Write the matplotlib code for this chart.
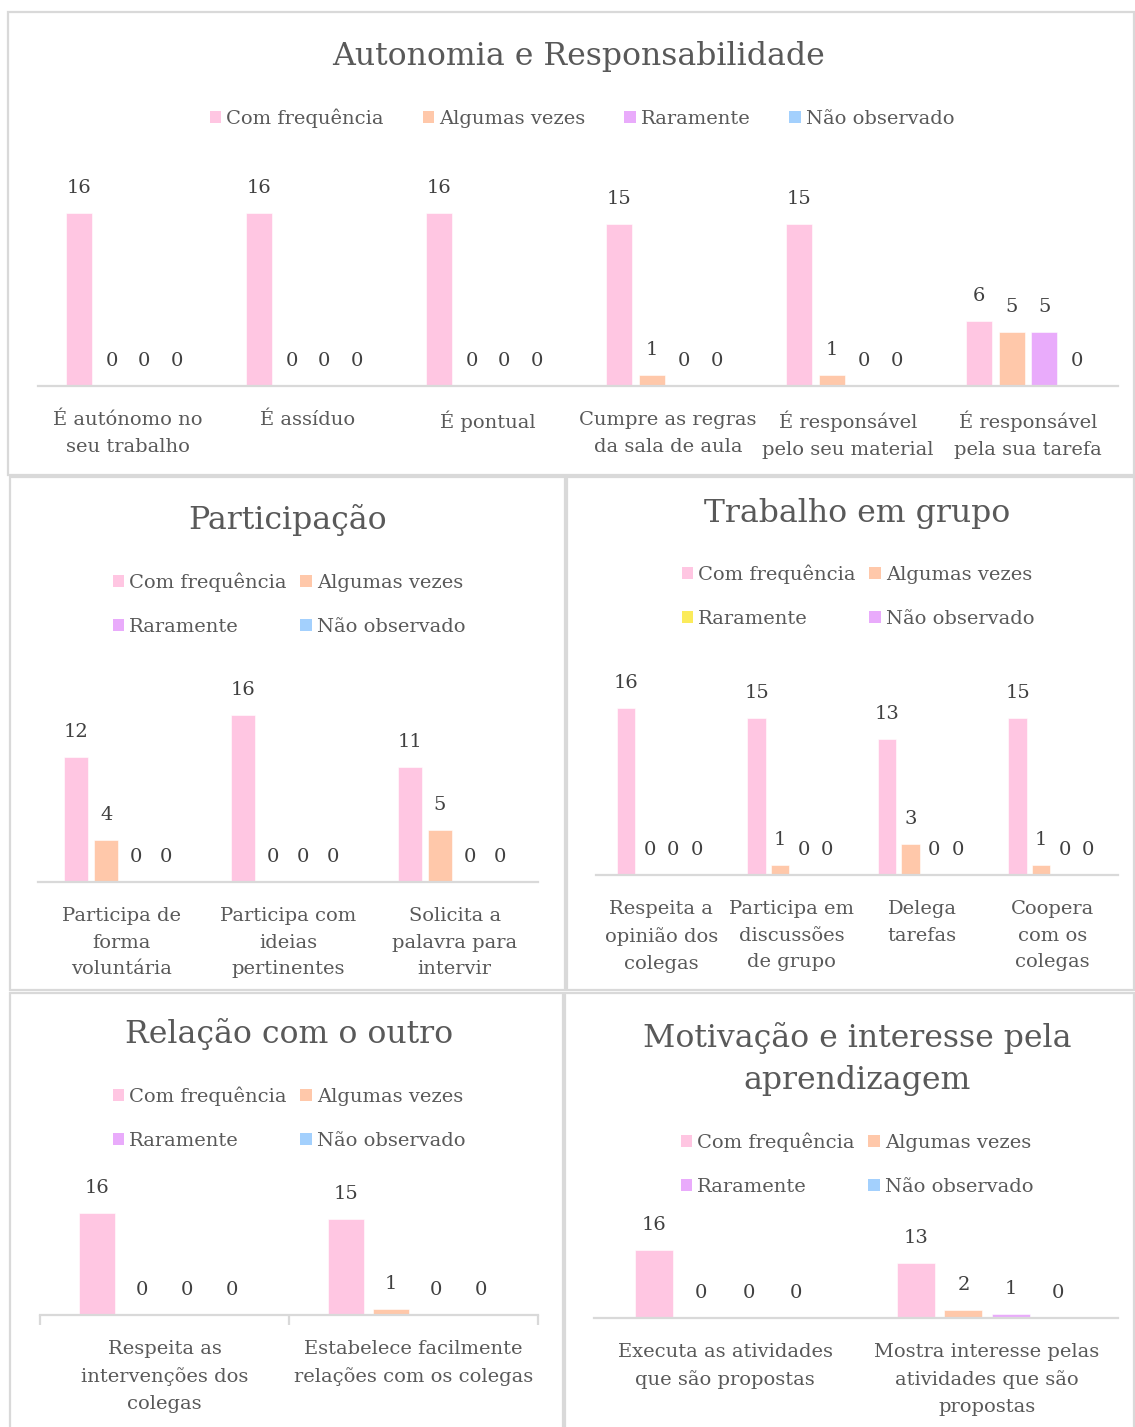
import matplotlib

matplotlib.use("Agg")
import matplotlib.pyplot as plt
import numpy as np
from matplotlib.patches import Patch, Rectangle

plt.rcParams["font.family"] = ["DejaVu Serif"]

W, H = 1135, 1427

PINK = "#FFC6E2"
PEACH = "#FFC8AA"
VIOLET = "#E9ABFB"
BLUE = "#A3D0FD"
YELLOW = "#FBEB5B"
GRID = "#D9D9D9"
TEXT = "#595959"
LABEL = "#404040"

SERIES = ["Com frequência", "Algumas vezes", "Raramente", "Não observado"]

# Autonomia e Responsabilidade
autonomia_items = [
    "É autónomo no\nseu trabalho",
    "É assíduo",
    "É pontual",
    "Cumpre as regras\nda sala de aula",
    "É responsável\npelo seu material",
    "É responsável\npela sua tarefa",
]
autonomia_com = [16, 16, 16, 15, 15, 6]
autonomia_alg = [0, 0, 0, 1, 1, 5]
autonomia_rar = [0, 0, 0, 0, 0, 5]
autonomia_nao = [0, 0, 0, 0, 0, 0]

# Participação
participacao_items = [
    "Participa de\nforma\nvoluntária",
    "Participa com\nideias\npertinentes",
    "Solicita a\npalavra para\nintervir",
]
participacao_com = [12, 16, 11]
participacao_alg = [4, 0, 5]
participacao_rar = [0, 0, 0]
participacao_nao = [0, 0, 0]

# Trabalho em grupo
grupo_items = [
    "Respeita a\nopinião dos\ncolegas",
    "Participa em\ndiscussões\nde grupo",
    "Delega\ntarefas",
    "Coopera\ncom os\ncolegas",
]
grupo_com = [16, 15, 13, 15]
grupo_alg = [0, 1, 3, 1]
grupo_rar = [0, 0, 0, 0]
grupo_nao = [0, 0, 0, 0]

# Relação com o outro
relacao_items = [
    "Respeita as\nintervenções dos\ncolegas",
    "Estabelece facilmente\nrelações com os colegas",
]
relacao_com = [16, 15]
relacao_alg = [0, 1]
relacao_rar = [0, 0]
relacao_nao = [0, 0]

# Motivação e interesse pela aprendizagem
motivacao_items = [
    "Executa as atividades\nque são propostas",
    "Mostra interesse pelas\natividades que são\npropostas",
]
motivacao_com = [16, 13]
motivacao_alg = [0, 2]
motivacao_rar = [0, 1]
motivacao_nao = [0, 0]


def fx(x):
    return x / W


def fy(y):
    return 1 - y / H


def panel(fig, x0, y0, x1, y1):
    fig.patches.append(
        Rectangle(
            (fx(x0), fy(y1)),
            fx(x1) - fx(x0),
            fy(y0) - fy(y1),
            transform=fig.transFigure,
            fill=False,
            edgecolor=GRID,
            linewidth=1.6,
        )
    )


def bar_chart(fig, box, ppu, items, series, colors, title, title_y, legend,
              tick_pad=18, boundary_ticks=False):
    x0, x1, base = box
    top_units = 17.5
    height = top_units * ppu
    ax = fig.add_axes([fx(x0), fy(base), fx(x1) - fx(x0), height / H])
    n = len(items)
    x = np.arange(n)
    step = 0.18
    width = 0.145
    for i, (vals, color) in enumerate(zip(series, colors)):
        pos = x + (i - 1.5) * step
        ax.bar(pos, vals, width=width, color=color, edgecolor="white",
               linewidth=0.4, zorder=2)
        for p, v in zip(pos, vals):
            ax.annotate(str(v), (p, v), xytext=(0, 18),
                        textcoords="offset points", ha="center", va="center",
                        fontsize=14, color=LABEL, annotation_clip=False)
    ax.set_xlim(-0.5, n - 0.5)
    ax.set_ylim(0, top_units)
    for side in ["top", "left", "right"]:
        ax.spines[side].set_visible(False)
    ax.spines["bottom"].set_color(GRID)
    ax.spines["bottom"].set_linewidth(1.6)
    ax.set_yticks([])
    ax.set_xticks(x)
    ax.set_xticklabels(items, fontsize=14, color=TEXT, linespacing=1.62)
    ax.tick_params(axis="x", length=0, pad=tick_pad)
    if boundary_ticks:
        ax.set_xticks(np.arange(n + 1) - 0.5, minor=True)
        ax.tick_params(axis="x", which="minor", length=7, width=1.6,
                       color=GRID, direction="out")
    ax.set_facecolor("none")

    fig.text(fx(title[1]), fy(title_y), title[0], ha="center", va="center",
             fontsize=22.7, color=TEXT, linespacing=1.45)

    lx, ly, ncol, colsp = legend
    handles = [Patch(facecolor=c, edgecolor="none") for c in colors]
    labels = list(SERIES)
    if ncol == 2:
        # fill row by row like the original
        order = [0, 2, 1, 3]
        handles = [handles[i] for i in order]
        labels = [labels[i] for i in order]
    fig.legend(
        handles,
        labels,
        loc="center",
        bbox_to_anchor=(fx(lx), fy(ly)),
        ncol=ncol,
        frameon=False,
        fontsize=14,
        labelcolor=TEXT,
        handlelength=0.6,
        handleheight=0.6,
        handletextpad=0.25,
        columnspacing=colsp,
        labelspacing=1.35,
    )
    return ax


fig = plt.figure(figsize=(W / 100, H / 100), dpi=100)

panel(fig, 8, 12, 1134, 475)
panel(fig, 10, 477, 565, 990)
panel(fig, 567, 477, 1134, 990)
panel(fig, 10, 993, 563, 1430)
panel(fig, 565, 993, 1134, 1430)

bar_chart(
    fig, (38, 1118, 386), 10.8, autonomia_items,
    [autonomia_com, autonomia_alg, autonomia_rar, autonomia_nao],
    [PINK, PEACH, VIOLET, BLUE],
    ("Autonomia e Responsabilidade", 578), 56,
    (582, 118, 4, 2.0),
)
bar_chart(
    fig, (38, 538, 882), 10.44, participacao_items,
    [participacao_com, participacao_alg, participacao_rar, participacao_nao],
    [PINK, PEACH, VIOLET, BLUE],
    ("Participação", 288), 520,
    (289, 604, 2, 0.7),
)
bar_chart(
    fig, (596, 1118, 875), 10.44, grupo_items,
    [grupo_com, grupo_alg, grupo_rar, grupo_nao],
    [PINK, PEACH, YELLOW, VIOLET],
    ("Trabalho em grupo", 857), 513,
    (858, 596, 2, 0.7),
)
bar_chart(
    fig, (40, 538, 1315), 6.4, relacao_items,
    [relacao_com, relacao_alg, relacao_rar, relacao_nao],
    [PINK, PEACH, VIOLET, BLUE],
    ("Relação com o outro", 289), 1034,
    (289, 1118, 2, 0.7), boundary_ticks=True,
)
bar_chart(
    fig, (594, 1118, 1318), 4.25, motivacao_items,
    [motivacao_com, motivacao_alg, motivacao_rar, motivacao_nao],
    [PINK, PEACH, VIOLET, BLUE],
    ("Motivação e interesse pela\naprendizagem", 857), 1059,
    (857, 1164, 2, 0.7),
)

fig.savefig("out.png", dpi=100, facecolor="white")
